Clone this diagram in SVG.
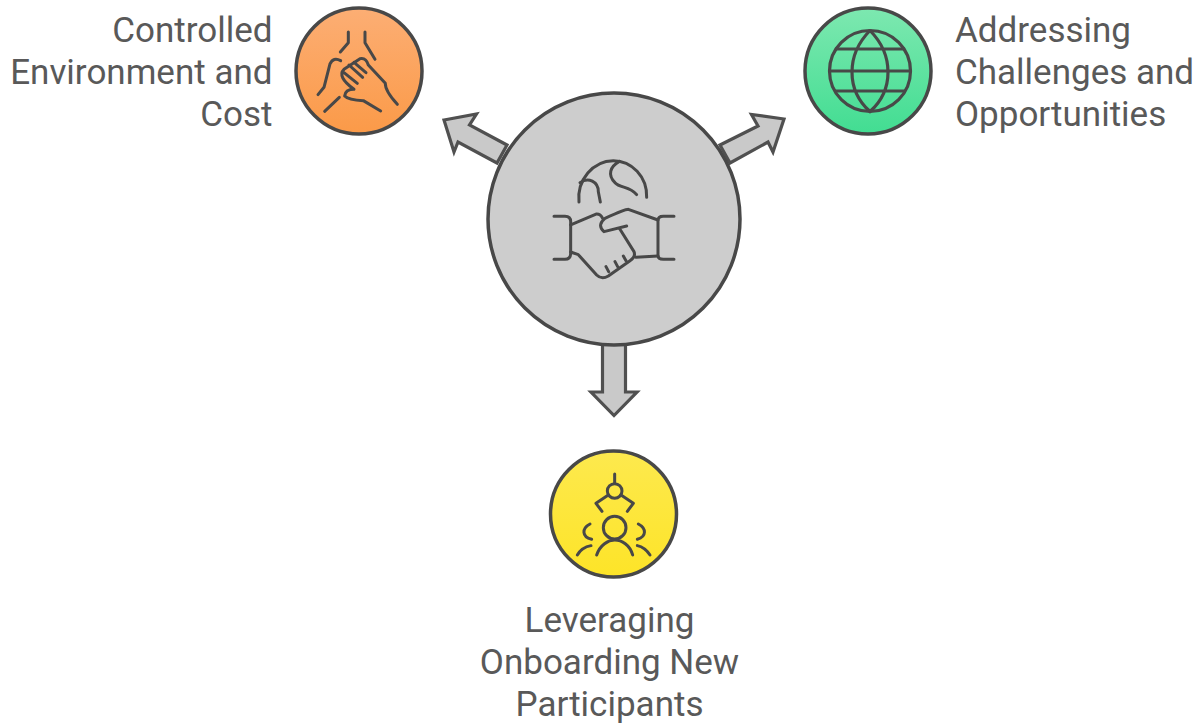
<svg xmlns="http://www.w3.org/2000/svg" width="1198" height="723" viewBox="0 0 1198 723">
<style>
.t{font-family:Roboto,"Liberation Sans",sans-serif;font-size:35px;fill:#595959}
.e{text-anchor:end}.m{text-anchor:middle}
.c{stroke:#484848;stroke-width:3.500}
.a{fill:#c9c9c9;stroke:#505050;stroke-width:3.200;stroke-linejoin:miter}
.i{fill:none;stroke:#484848;stroke-width:9;stroke-linecap:round;stroke-linejoin:round}
</style>
<defs>
<linearGradient id="go" x1="0" y1="0" x2="0" y2="1"><stop offset="0" stop-color="#fcae74"/><stop offset="1" stop-color="#fb9a48"/></linearGradient>
<linearGradient id="gg" x1="0" y1="0" x2="0" y2="1"><stop offset="0" stop-color="#7de8b0"/><stop offset="1" stop-color="#42dd92"/></linearGradient>
<linearGradient id="gy" x1="0" y1="0" x2="0" y2="1"><stop offset="0" stop-color="#fde94e"/><stop offset="1" stop-color="#fde428"/></linearGradient>
</defs>
<g id="connectors">
<path class="a" d="M444 120L476.500 114L469.500 125L507 145L497 163L458 142L454 152Z"/>
<path class="a" d="M784 119L751.500 114.500L758 126L720 145L730 163L768 142L773 152Z"/>
<path class="a" d="M602.500 343V392H591L614 415.500L637 392H625.500V343Z"/>
</g>
<g id="center">
<circle class="c" cx="614" cy="219" r="126" fill="#cdcdcd"/>
<g transform="translate(530 150) scale(.3333)">
<path class="i" d="M147 156C140 90 190 32 250 32C305 32 352 80 350 142"/>
<path class="i" d="M150 98C175 80 205 95 205 125L211 156M268 34C240 50 232 75 255 98C270 115 300 108 320 134"/>
<path class="i" d="M72 199H105Q122 199 122 215V310Q122 328 105 328H72M432 199H400Q384 199 384 212V316Q384 328 400 328H432"/>
<path class="i" d="M122 225L200 192Q212 192 218 205M384 210L295 178Q285 178 225 205Q200 225 222 245L290 228M270 238L312 305Q318 320 300 332L235 378Q215 390 200 375L145 314L122 306M318 322L384 318M228 350L236 365M255 335L263 350M280 318L288 332"/>
</g>
</g>
<g id="orange">
<circle class="c" cx="359" cy="71" r="63" fill="url(#go)"/>
<g transform="translate(280 0) scale(.3333)">
<path class="i" d="M205 96V128L181 156M255 96V128L285 178"/>
<path class="i" d="M114 284L132 262L150 192Q160 170 182 182M178 292L134 334"/>
<path class="i" d="M192 208L240 176Q258 172 265 195L316 250Q315 272 352 313M194 288Q205 300 250 302L302 333M192 208Q170 230 222 268Q196 268 194 288M207 195L248 232M192 218L232 250M222 187L258 218"/>
</g>
</g>
<g id="green">
<circle class="c" cx="868" cy="71" r="63" fill="url(#gg)"/>
<g fill="none" stroke="#484848" stroke-width="3.200">
<circle cx="870" cy="71" r="40.500"/>
<path d="M870 30.500C846 55 846 90 870 111.500C894 90 894 55 870 30.500M829.500 71H910.500M835 49H905M835 91H905"/>
</g>
</g>
<g id="yellow">
<circle class="c" cx="613.500" cy="514" r="63" fill="url(#gy)"/>
<g transform="translate(540 340) scale(.3333)">
<path class="i" d="M224 402V430"/>
<circle class="i" cx="224" cy="453" r="22"/>
<path class="i" d="M205 465L168 490L186 514M243 465L280 490L262 514"/>
<circle class="i" cx="224" cy="563" r="34"/>
<path class="i" d="M170 645C180 615 205 600 224 600C245 600 270 615 278 645M150 552C125 565 125 590 155 598M295 552C320 565 320 590 292 598M112 645Q125 622 153 617M330 645Q315 622 292 617"/>
</g>
</g>
<text class="t e" x="272.500" y="42">Controlled</text>
<text class="t e" x="272.500" y="84">Environment and</text>
<text class="t e" x="272.500" y="126">Cost</text>
<text class="t" x="955" y="42">Addressing</text>
<text class="t" x="955" y="84">Challenges and</text>
<text class="t" x="955" y="126">Opportunities</text>
<text class="t m" x="609.500" y="632">Leveraging</text>
<text class="t m" x="609.500" y="674">Onboarding New</text>
<text class="t m" x="609.500" y="716">Participants</text>
</svg>
